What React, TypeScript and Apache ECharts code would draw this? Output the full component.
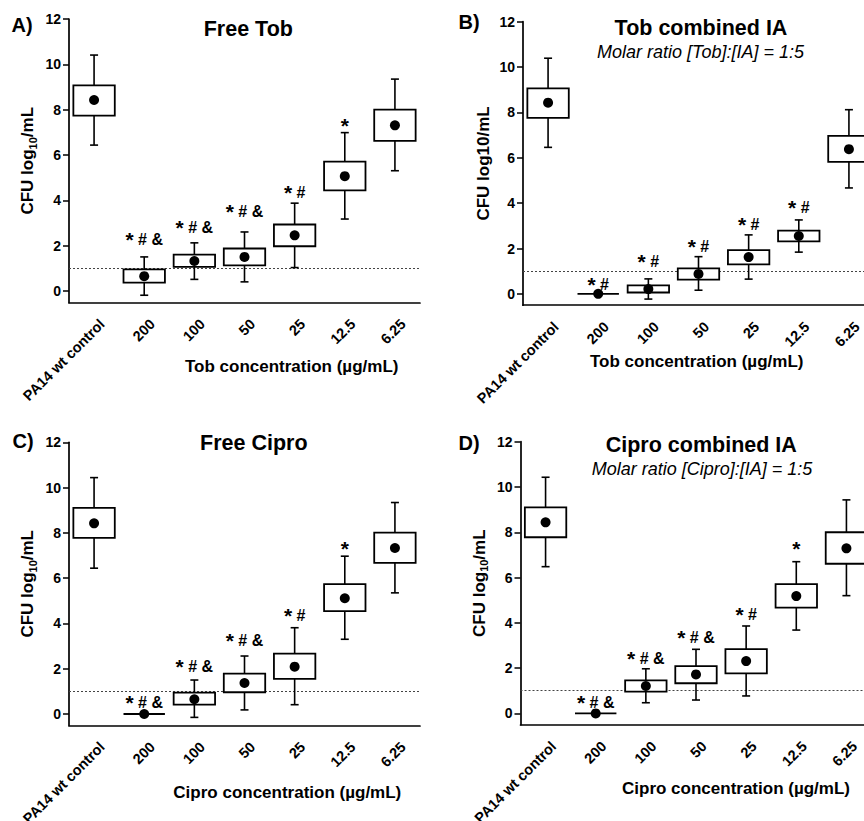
import React, { useEffect, useRef } from "react";
import * as echarts from "echarts";

const FONT = '"Liberation Sans", Arial, Helvetica, sans-serif';

// ---------- shared axis data ----------
const categories = ["PA14 wt control", "200", "100", "50", "25", "12.5", "6.25"];
const yTickValues = [0, 2, 4, 6, 8, 10, 12];
const detectionLimit = 1;

// ---------- Panel A: Free Tob ----------
const freeTobWhiskerLow = [6.44, -0.18, 0.52, 0.41, 1.04, 3.18, 5.31];
const freeTobBoxLow = [7.74, 0.38, 1.07, 1.14, 1.98, 4.44, 6.63];
const freeTobBoxHigh = [9.07, 0.96, 1.61, 1.88, 2.94, 5.71, 8.0];
const freeTobWhiskerHigh = [10.41, 1.51, 2.13, 2.61, 3.88, 6.99, 9.35];
const freeTobMean = [8.43, 0.66, 1.33, 1.51, 2.46, 5.07, 7.31];
const freeTobSig = ["", "* # &", "* # &", "* # &", "* #", "*", ""];
const freeTobSigLevel = [null, 2.29, 2.82, 3.52, 4.34, 7.3, null];

// ---------- Panel B: Tob combined IA ----------
const tobIaWhiskerLow = [6.46, 0, -0.23, 0.16, 0.65, 1.84, 4.67];
const tobIaBoxLow = [7.76, 0, 0.06, 0.63, 1.3, 2.31, 5.82];
const tobIaBoxHigh = [9.06, 0, 0.37, 1.12, 1.93, 2.79, 6.97];
const tobIaWhiskerHigh = [10.39, 0, 0.66, 1.64, 2.6, 3.26, 8.12];
const tobIaMean = [8.43, 0, 0.21, 0.88, 1.62, 2.55, 6.38];
const tobIaSig = ["", "* #", "* #", "* #", "* #", "* #", ""];
const tobIaSigLevel = [null, 0.41, 1.41, 2.09, 3.05, 3.79, null];

// ---------- Panel C: Free Cipro ----------
const freeCiproWhiskerLow = [6.44, 0, -0.15, 0.18, 0.41, 3.3, 5.35];
const freeCiproBoxLow = [7.78, 0, 0.41, 0.96, 1.55, 4.54, 6.67];
const freeCiproBoxHigh = [9.1, 0, 0.94, 1.78, 2.67, 5.74, 8.01];
const freeCiproWhiskerHigh = [10.44, 0, 1.5, 2.56, 3.81, 6.97, 9.34];
const freeCiproMean = [8.42, 0, 0.65, 1.37, 2.09, 5.11, 7.33];
const freeCiproSig = ["", "* # &", "* # &", "* # &", "* #", "*", ""];
const freeCiproSigLevel = [null, 0.52, 2.09, 3.24, 4.37, 7.31, null];

// ---------- Panel D: Cipro combined IA ----------
const ciproIaWhiskerLow = [6.48, 0, 0.47, 0.59, 0.77, 3.68, 5.2];
const ciproIaBoxLow = [7.78, 0, 0.96, 1.33, 1.77, 4.67, 6.61];
const ciproIaBoxHigh = [9.1, 0, 1.46, 2.09, 2.84, 5.71, 8.0];
const ciproIaWhiskerHigh = [10.43, 0, 1.97, 2.83, 3.86, 6.7, 9.43];
const ciproIaMean = [8.44, 0, 1.21, 1.72, 2.31, 5.18, 7.29];
const ciproIaSig = ["", "* # &", "* # &", "* # &", "* #", "*", ""];
const ciproIaSigLevel = [null, 0.49, 2.43, 3.34, 4.37, 7.28, null];

type Panel = {
  label: string;
  labelPos: [number, number];
  title: string;
  titlePos: [number, number];
  subtitle?: string;
  subtitlePos?: [number, number];
  xName: string;
  xNamePos: [number, number];
  yNameSub: boolean;
  grid: { left: number; top: number; width: number; height: number };
  low: number[];
  q1: number[];
  q3: number[];
  high: number[];
  mean: number[];
  sig: string[];
  sigLevel: (number | null)[];
};

const panels: Panel[] = [
  {
    label: "A)",
    labelPos: [11.5, 25],
    title: "Free Tob",
    titlePos: [248.3, 28.8],
    xName: "Tob concentration (µg/mL)",
    xNamePos: [291.7, 366],
    yNameSub: true,
    grid: { left: 69, top: 19, width: 351, height: 283.5 },
    low: freeTobWhiskerLow,
    q1: freeTobBoxLow,
    q3: freeTobBoxHigh,
    high: freeTobWhiskerHigh,
    mean: freeTobMean,
    sig: freeTobSig,
    sigLevel: freeTobSigLevel,
  },
  {
    label: "B)",
    labelPos: [458.5, 21.7],
    title: "Tob combined IA",
    titlePos: [701, 28.3],
    subtitle: "Molar ratio [Tob]:[IA] = 1:5",
    subtitlePos: [700.5, 51.7],
    xName: "Tob concentration (µg/mL)",
    xNamePos: [696.7, 361.7],
    yNameSub: false,
    grid: { left: 523, top: 21.7, width: 351, height: 283.5 },
    low: tobIaWhiskerLow,
    q1: tobIaBoxLow,
    q3: tobIaBoxHigh,
    high: tobIaWhiskerHigh,
    mean: tobIaMean,
    sig: tobIaSig,
    sigLevel: tobIaSigLevel,
  },
  {
    label: "C)",
    labelPos: [12.5, 441],
    title: "Free Cipro",
    titlePos: [253.8, 443.3],
    xName: "Cipro concentration (µg/mL)",
    xNamePos: [287.3, 792.7],
    yNameSub: true,
    grid: { left: 69, top: 442.3, width: 351, height: 283 },
    low: freeCiproWhiskerLow,
    q1: freeCiproBoxLow,
    q3: freeCiproBoxHigh,
    high: freeCiproWhiskerHigh,
    mean: freeCiproMean,
    sig: freeCiproSig,
    sigLevel: freeCiproSigLevel,
  },
  {
    label: "D)",
    labelPos: [458.5, 442.5],
    title: "Cipro combined IA",
    titlePos: [701.3, 444.7],
    subtitle: "Molar ratio [Cipro]:[IA] = 1:5",
    subtitlePos: [702, 469.3],
    xName: "Cipro concentration (µg/mL)",
    xNamePos: [736, 788.3],
    yNameSub: true,
    grid: { left: 520.5, top: 441.7, width: 351, height: 283 },
    low: ciproIaWhiskerLow,
    q1: ciproIaBoxLow,
    q3: ciproIaBoxHigh,
    high: ciproIaWhiskerHigh,
    mean: ciproIaMean,
    sig: ciproIaSig,
    sigLevel: ciproIaSigLevel,
  },
];

const INK = "#000";

function textEl(text: string, x: number, y: number, font: string, align: string) {
  return {
    type: "text",
    x,
    y,
    silent: true,
    style: {
      text,
      x: 0,
      y: 0,
      font,
      fill: "#000",
      align,
      textAlign: align,
      verticalAlign: "middle",
      textVerticalAlign: "middle",
    },
  };
}

function sigRich(s: string) {
  // make the asterisk larger, as in the original figure
  return s.replace("*", "{st|*}");
}

function buildOption() {
  const grid: any[] = [];
  const xAxis: any[] = [];
  const yAxis: any[] = [];
  const series: any[] = [];
  const graphic: any[] = [];

  panels.forEach((p, i) => {
    grid.push({ ...p.grid, containLabel: false, outerBoundsMode: "none" });

    xAxis.push({
      gridIndex: i,
      type: "category",
      data: categories,
      boundaryGap: true,
      axisLine: { onZero: false, lineStyle: { color: INK, width: 1.7 } },
      axisTick: { alignWithLabel: true, length: 6, lineStyle: { color: INK, width: 1.5 } },
      axisLabel: {
        interval: 0,
        rotate: 45,
        margin: 11,
        verticalAlign: "top",
        lineHeight: 23,
        color: INK,
        fontFamily: FONT,
        fontSize: 14.5,
        fontWeight: "bold",
      },
      splitLine: { show: false },
    });

    const yName = p.yNameSub ? "{b|CFU log}{s|10}{b|/mL}" : "{b|CFU log10/mL}";
    yAxis.push({
      gridIndex: i,
      type: "value",
      min: -0.5,
      max: 12,
      name: yName,
      nameLocation: "middle",
      nameRotate: 90,
      nameGap: 31,
      nameTextStyle: {
        rich: {
          b: { fontFamily: FONT, fontSize: 17, fontWeight: "bold", color: INK, verticalAlign: "top" },
          s: {
            fontFamily: FONT,
            fontSize: 11,
            fontWeight: "bold",
            color: INK,
            verticalAlign: "top",
            padding: [8, 0, 0, 0],
          },
        },
      },
      axisLine: { show: true, lineStyle: { color: INK, width: 1.7 } },
      axisTick: { show: true, length: 6, customValues: yTickValues, lineStyle: { color: INK, width: 1.5 } },
      axisLabel: {
        customValues: yTickValues,
        margin: 8,
        color: INK,
        fontFamily: FONT,
        fontSize: 14,
        fontWeight: "bold",
      },
      splitLine: { show: false },
    });

    // boxes + whiskers
    series.push({
      type: "custom",
      xAxisIndex: i,
      yAxisIndex: i,
      z: 2,
      silent: true,
      data: categories.map((_, j) => [j, p.low[j], p.q1[j], p.q3[j], p.high[j]]),
      encode: { x: 0, y: [1, 2, 3, 4] },
      renderItem: (params: any, api: any) => {
        const j = api.value(0);
        const lo = api.coord([j, api.value(1)]);
        const b1 = api.coord([j, api.value(2)]);
        const b3 = api.coord([j, api.value(3)]);
        const hi = api.coord([j, api.value(4)]);
        const band = api.size([1, 0])[0];
        const hw = band * 0.413;
        const cap = 4;
        const x = lo[0];
        const ls = { stroke: INK, lineWidth: 1.6 };
        const children: any[] = [];
        if (hi[1] < b3[1] - 0.5) {
          children.push({ type: "line", shape: { x1: x, y1: hi[1], x2: x, y2: b3[1] }, style: ls });
          children.push({ type: "line", shape: { x1: x - cap, y1: hi[1], x2: x + cap, y2: hi[1] }, style: ls });
        }
        if (lo[1] > b1[1] + 0.5) {
          children.push({ type: "line", shape: { x1: x, y1: b1[1], x2: x, y2: lo[1] }, style: ls });
          children.push({ type: "line", shape: { x1: x - cap, y1: lo[1], x2: x + cap, y2: lo[1] }, style: ls });
        }
        if (b1[1] - b3[1] < 0.5) {
          children.push({ type: "line", shape: { x1: x - hw, y1: b1[1], x2: x + hw, y2: b1[1] }, style: { stroke: INK, lineWidth: 1.8 } });
        } else {
          children.push({
            type: "rect",
            shape: { x: x - hw, y: b3[1], width: 2 * hw, height: b1[1] - b3[1] },
            style: { fill: "#fff", stroke: INK, lineWidth: 1.8 },
          });
        }
        return { type: "group", children };
      },
    });

    // means
    series.push({
      type: "scatter",
      xAxisIndex: i,
      yAxisIndex: i,
      z: 3,
      silent: true,
      symbol: "circle",
      symbolSize: 10,
      itemStyle: { color: "#000", opacity: 1 },
      data: p.mean.map((v, j) => [j, v]),
      markLine: {
        silent: true,
        z: 1,
        symbol: ["none", "none"],
        label: { show: false },
        lineStyle: { type: [2, 2], color: "#444", width: 1, opacity: 1 },
        data: [{ yAxis: detectionLimit }],
      },
    });

    // significance marks
    series.push({
      type: "scatter",
      xAxisIndex: i,
      yAxisIndex: i,
      z: 4,
      silent: true,
      symbol: "circle",
      symbolSize: 1,
      itemStyle: { color: "rgba(0,0,0,0)", opacity: 1 },
      data: categories
        .map((_, j) => j)
        .filter((j) => p.sigLevel[j] !== null)
        .map((j) => ({
          value: [j, p.sigLevel[j]],
          label: { formatter: sigRich(p.sig[j]) },
        })),
      label: {
        show: true,
        position: "inside",
        color: "#000",
        opacity: 1,
        fontFamily: FONT,
        fontSize: 16,
        fontWeight: "bold",
        rich: {
          st: { fontFamily: FONT, fontSize: 21, fontWeight: "bold", color: "#000" },
        },
      },
    });

    graphic.push(textEl(p.label, p.labelPos[0], p.labelPos[1], `bold 20px ${FONT}`, "left"));
    graphic.push(textEl(p.title, p.titlePos[0], p.titlePos[1], `bold 21.5px ${FONT}`, "center"));
    if (p.subtitle && p.subtitlePos) {
      graphic.push(textEl(p.subtitle, p.subtitlePos[0], p.subtitlePos[1], `italic 18px ${FONT}`, "center"));
    }
    graphic.push(textEl(p.xName, p.xNamePos[0], p.xNamePos[1], `bold 17px ${FONT}`, "center"));
  });

  return {
    animation: false,
    backgroundColor: "#fff",
    grid,
    xAxis,
    yAxis,
    series,
    graphic,
  };
}

export default function App() {
  const ref = useRef<HTMLDivElement>(null);
  useEffect(() => {
    document.body.style.margin = "0";
    const chart = echarts.init(ref.current as HTMLDivElement, null, { renderer: "svg" });
    chart.setOption(buildOption() as any);
    return () => chart.dispose();
  }, []);
  return <div ref={ref} style={{ width: 864, height: 821, background: "#fff" }} />;
}
